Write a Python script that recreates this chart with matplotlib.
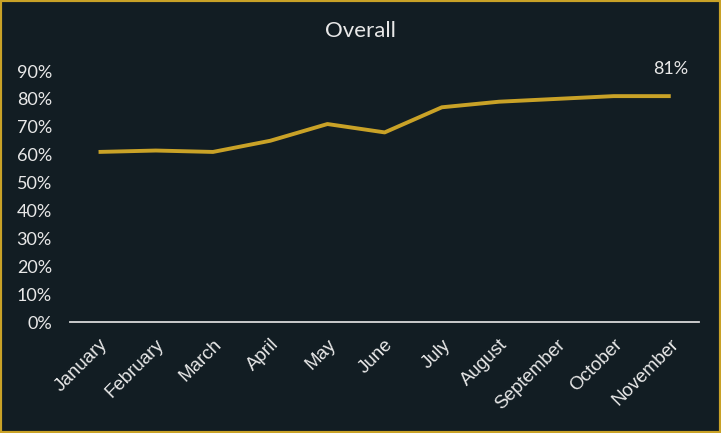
import matplotlib.pyplot as plt
from matplotlib.patches import Rectangle
from matplotlib.ticker import PercentFormatter

months = ['January', 'February', 'March', 'April', 'May', 'June', 'July',
          'August', 'September', 'October', 'November']
overall = [0.61, 0.615, 0.61, 0.65, 0.71, 0.68, 0.77, 0.79, 0.80, 0.81, 0.81]

bg = '#121d23'
gold = '#c9a227'
txt = '#e8e8e8'

plt.rcParams['font.family'] = ['Lato', 'DejaVu Sans']

fig = plt.figure(figsize=(7.21, 4.33), dpi=100, facecolor=bg)
ax = fig.add_axes([0.097, 0.256, 0.873, 0.58], facecolor=bg)

x = range(len(months))
ax.plot(x, overall, color=gold, lw=2.8, solid_capstyle='butt')
ax.annotate('{:.0%}'.format(overall[-1]), (x[-1], overall[-1]), xytext=(0, 14),
            textcoords='offset points', ha='center', va='bottom', color=txt, fontsize=13)

ax.set_xlim(-0.5, len(months) - 0.5)
ax.set_ylim(0, 0.9)
ax.set_yticks([i / 10 for i in range(10)])
ax.yaxis.set_major_formatter(PercentFormatter(1.0, decimals=0))
ax.set_xticks(list(x))
ax.set_xticklabels(months, rotation=45, ha='right', rotation_mode='anchor',
                   family=['Liberation Sans', 'DejaVu Sans'], fontsize=13.5)
ax.tick_params(axis='both', length=0, colors=txt)
ax.tick_params(axis='y', pad=13, labelsize=13)
ax.tick_params(axis='x', pad=10)
for s in ['top', 'right', 'left']:
    ax.spines[s].set_visible(False)
ax.spines['bottom'].set_color('#d9d9d9')
ax.spines['bottom'].set_linewidth(1.3)

fig.text(0.5, 0.928, 'Overall', ha='center', va='center', color=txt, fontsize=16)
fig.patches.append(Rectangle((0, 0), 1, 1, transform=fig.transFigure, fill=False,
                             edgecolor=gold, lw=3))

fig.savefig('out.png', dpi=100, facecolor=bg)
